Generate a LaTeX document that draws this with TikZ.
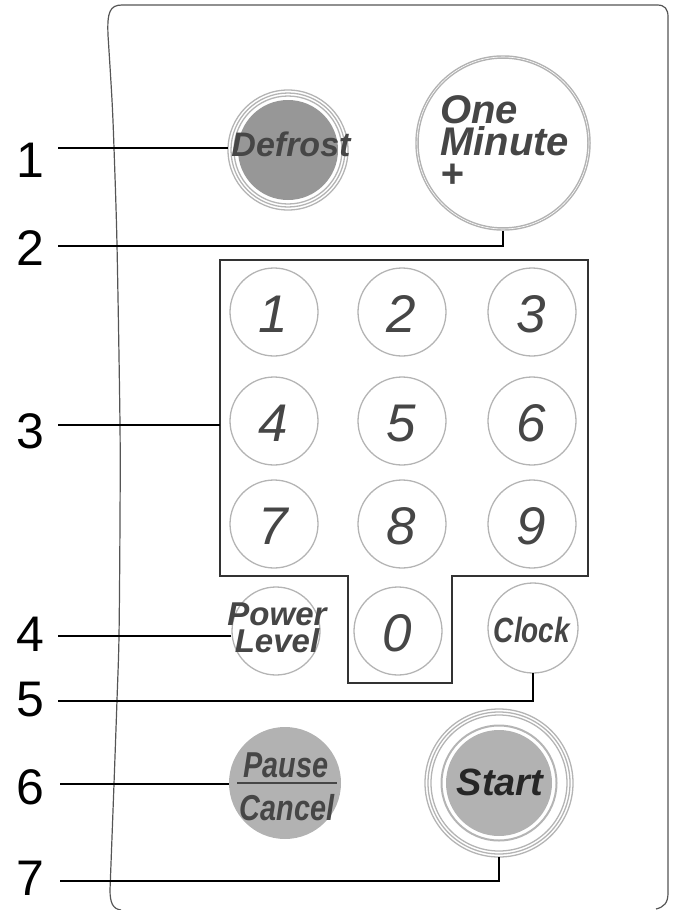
\documentclass[tikz,border=0pt]{standalone}
\usepackage{fontspec}
\setmainfont{Liberation Sans}
\newfontfamily\condfont[FakeStretch=0.8]{Liberation Sans}
\definecolor{framec}{HTML}{555555}
\definecolor{ringc}{HTML}{B4B4B4}
\definecolor{fillc}{HTML}{B2B2B2}
\definecolor{darkfill}{HTML}{979797}
\definecolor{txtc}{HTML}{464646}
\begin{document}
\begin{tikzpicture}[x=1pt,y=-1pt,
  lbl/.style={font=\fontsize{50}{50}\selectfont, inner sep=0pt},
  conn/.style={draw=black, line width=1.1pt},
  ring/.style={draw=ringc, line width=1.3pt},
  btn/.style={circle, inner sep=0pt, minimum size=#1},
  keytxt/.style={font=\fontsize{53}{53}\selectfont\itshape, text=txtc, inner sep=0pt, anchor=base},
  btxt/.style={font=\fontsize{#1}{#1}\selectfont\bfseries\itshape, text=txtc, inner sep=0pt, anchor=base},
  ctxt/.style={font=\fontsize{#1}{#1}\selectfont\condfont\bfseries\itshape, text=txtc, inner sep=0pt, anchor=base}
]
\useasboundingbox (0,0) rectangle (673,910);
% panel frame
\draw[framec, line width=1.2pt] (121,910) .. controls (113,909) and (110,903) .. (110,890)
  plot[smooth] coordinates {(110,890) (114,784) (117,700) (119,636) (120,520) (120,425) (117,245) (114,148) (112,100) (108,35)}
  .. controls (107,12) and (110,5) .. (122,5) -- (657,5) .. controls (665,5) and (668,9) .. (668,17)
  -- (668,893) .. controls (668,903) and (664,907) .. (656,909);

% Defrost
\node[btn=120pt] (defrost) at (288,150) {};
\draw[ring] (defrost.center) circle[radius=60];
\draw[ring] (defrost.center) circle[radius=57];
\draw[ring] (defrost.center) circle[radius=54];
\fill[darkfill] (defrost.center) circle[radius=50];
\node[btxt=34] (defrosttxt) at (291,156) {Defrost};

% One Minute
\node[btn=176pt] (onemin) at (503,143) {};
\draw[draw=fillc, line width=3.5pt] (onemin.center) circle[radius=86];
\draw[draw=white, line width=0.6pt] (onemin.center) circle[radius=86];
\node[font=\fontsize{40}{32}\selectfont\bfseries\itshape, text=txtc, inner sep=0pt,
  align=left, anchor=base west] (onetxt) at (440,187) {One\\Minute\\+};

% keypad box
\draw[line width=1.2pt, draw=black!80] (220,260) coordinate (kpNW) -- (588,260) -- (588,576) -- (452,576) -- (452,683) -- (348,683) -- (348,576) -- (220,576) -- cycle;

% number keys
\foreach \d/\x/\y in {1/274/312, 2/402/312, 3/532/312, 4/274/421, 5/402/421, 6/532/421, 7/274/524, 8/402/524, 9/532/524, 0/398/631}{
  \node[btn=88pt] (k\d) at (\x,\y) {};
  \draw[ring] (k\d.center) circle[radius=44];
  \node[keytxt] (kt\d) at (\x-1,\y+20) {\d};
}

% Power Level
\node[btn=90pt] (power) at (276,631) {};
\draw[ring] (power.center) circle[radius=44];
\node[font=\fontsize{33}{27}\selectfont\bfseries\itshape, text=txtc, inner sep=0pt,
  align=center, anchor=base] (powertxt) at (277,652) {Power\\Level};

% Clock
\node[btn=90pt] (clock) at (533,628) {};
\draw[ring] (clock.center) circle[radius=45];
\node[ctxt=35] (clocktxt) at (532,642) {Clock};

% Pause / Cancel
\node[btn=112pt] (pause) at (285,783) {};
\fill[fillc] (pause.center) circle[radius=56];
\node[ctxt=36] (pausetxt) at (286,777) {Pause};
\draw[txtc, line width=1.6pt] (237,783) -- (337,783);
\node[ctxt=36] (canceltxt) at (287,820) {Cancel};

% Start
\node[btn=148pt] (start) at (499,783) {};
\draw[ring] (start.center) circle[radius=74];
\draw[ring] (start.center) circle[radius=71];
\draw[ring] (start.center) circle[radius=68];
\draw[draw=ringc, line width=2pt] (start.center) circle[radius=57.5];
\fill[fillc] (start.center) circle[radius=53];
\node[btxt=38, text=black!85] (starttxt) at (500,795) {Start};

% labels
\node[lbl] (L1) at (30,160) {1};
\node[lbl] (L2) at (30,248) {2};
\node[lbl] (L3) at (30,431) {3};
\node[lbl] (L4) at (30,634) {4};
\node[lbl] (L5) at (30,700) {5};
\node[lbl] (L6) at (30,787) {6};
\node[lbl] (L7) at (30,878) {7};

\coordinate (s1) at (58,148);
\coordinate (s2) at (58,246);
\coordinate (s3) at (58,425);
\coordinate (s4) at (58,636);
\coordinate (s5) at (58,701);
\coordinate (s6) at (60,784);
\coordinate (s7) at (60,881);

\draw[conn] (s1) -- (s1 -| defrost.west);
\draw[conn] (s2) -- (s2 -| onemin.south) -- (onemin.south);
\draw[conn] (s3) -- (s3 -| kpNW);
\draw[conn] (s4) -- (s4 -| power.west);
\draw[conn] (s5) -- (s5 -| clock.south) -- (clock.south);
\draw[conn] (s6) -- (s6 -| pause.west);
\draw[conn] (s7) -- (s7 -| start.south) -- (start.south);
\end{tikzpicture}
\end{document}
